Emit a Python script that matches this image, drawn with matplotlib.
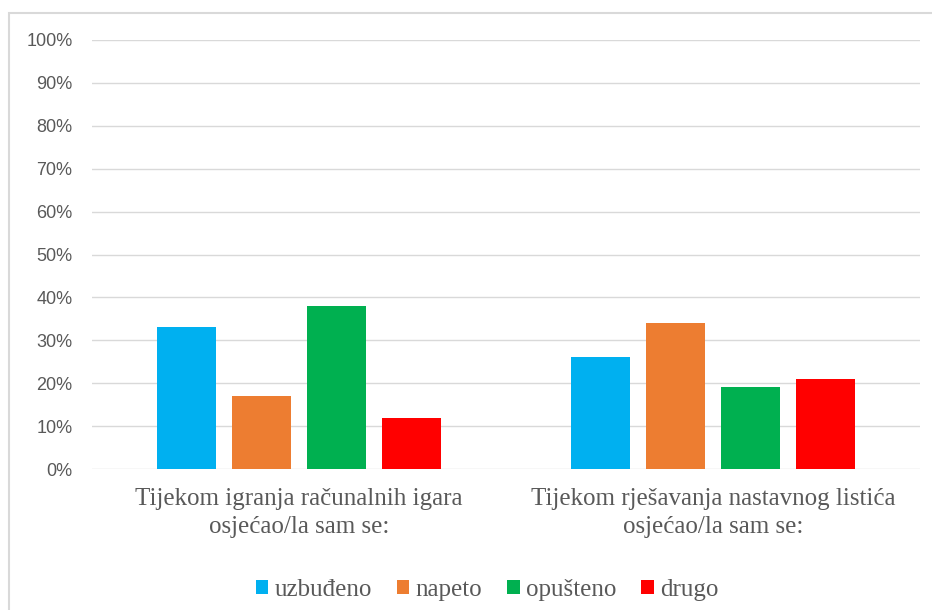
import matplotlib.pyplot as plt
from matplotlib.patches import Rectangle
import numpy as np

categories = ["Tijekom igranja računalnih igara\nosjećao/la sam se:",
              "Tijekom rješavanja nastavnog listića\nosjećao/la sam se:"]
series = ["uzbuđeno", "napeto", "opušteno", "drugo"]
values = {
    "uzbuđeno": [33, 26],
    "napeto": [17, 34],
    "opušteno": [38, 19],
    "drugo": [12, 21],
}
colors = ["#00B0F0", "#ED7D31", "#00B050", "#FF0000"]

fig = plt.figure(figsize=(9.32, 6.1), dpi=100)
ax = fig.add_axes([92 / 932, 1 - 469 / 610, 828 / 932, 429 / 610])

# chart border (cropped on right and bottom)
fig.patches.append(Rectangle((9 / 932, -0.1), 1.2, 0.1 + (1 - 13 / 610),
                             transform=fig.transFigure, fill=False,
                             edgecolor="#D9D9D9", linewidth=1.5))

x = np.arange(len(categories))
width = 0.1425
pitch = 0.181
for i, (name, c) in enumerate(zip(series, colors)):
    ax.bar(x + (i - 1.5) * pitch, values[name], width, color=c, label=name, zorder=3)

ax.set_xlim(-0.5, 1.5)
ax.set_ylim(0, 100)
ax.set_yticks(range(0, 101, 10))
ax.set_yticklabels([f"{v}%" for v in range(0, 101, 10)], fontsize=13,
                   color="#595959", family="Liberation Sans")
ax.set_xticks(x)
ax.set_xticklabels(categories, fontsize=18, color="#595959",
                   family="Liberation Serif", linespacing=1.3)
ax.tick_params(length=0)
ax.tick_params(axis="y", pad=14)
ax.tick_params(axis="x", pad=14)
ax.grid(axis="y", color="#D9D9D9", linewidth=1, zorder=0)
for s in ax.spines.values():
    s.set_visible(False)

leg = fig.legend(loc="center", bbox_to_anchor=(487 / 932, 1 - 590 / 610), ncol=4,
                 frameon=False, prop={"family": "Liberation Serif", "size": 18},
                 handlelength=0.5, handleheight=0.5, handletextpad=0.25,
                 columnspacing=1.0)
for t in leg.get_texts():
    t.set_color("#595959")

fig.savefig("out.png", dpi=100)
